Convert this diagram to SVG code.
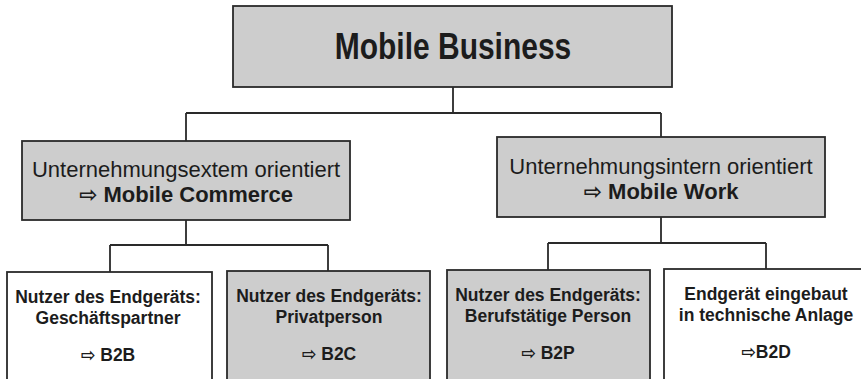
<svg xmlns="http://www.w3.org/2000/svg" width="861" height="379" viewBox="0 0 861 379">
<style>
.bg{fill:#ffffff}
.box{stroke:#2a2a2a;stroke-width:1.8}
.gray{fill:#cdcdcd}
.white{fill:#ffffff}
.conn{fill:none;stroke:#2a2a2a;stroke-width:1.8}
text{font-family:"Liberation Sans",Arial,"DejaVu Sans",sans-serif;fill:#1c1c1c;text-anchor:middle}
.title{font-size:30px;font-weight:bold}
.mid{font-size:22px}
.midb{font-size:22px;font-weight:bold}
.low{font-size:17.5px;font-weight:bold}
</style>
<rect class="bg" x="0" y="0" width="861" height="379"/>
<g id="connectors">
<path class="conn" d="M453 87 V113 M186 113 H661 M186 113 V141 M661 113 V137"/>
<path class="conn" d="M186 220 V245 M110 245 H328 M110 245 V272 M328 245 V271"/>
<path class="conn" d="M661 217 V243 M548 243 H766 M548 243 V270 M766 243 V269"/>
</g>
<g id="mobile-business">
<rect class="box gray" x="233" y="6" width="439" height="81"/>
<text class="title" transform="translate(453,59) scale(1,1.25)" x="0" y="0">Mobile Business</text>
</g>
<g id="mobile-commerce">
<rect class="box gray" x="22" y="141" width="328" height="79"/>
<text class="mid" x="186" y="177">Unternehmungsextem orientiert</text>
<text class="midb" x="186" y="202">⇨ Mobile Commerce</text>
</g>
<g id="mobile-work">
<rect class="box gray" x="497" y="137" width="328" height="80"/>
<text class="mid" x="661" y="174">Unternehmungsintern orientiert</text>
<text class="midb" x="661" y="199">⇨ Mobile Work</text>
</g>
<g id="b2b">
<rect class="box white" x="7" y="272" width="205" height="108"/>
<text class="low" x="108" y="303">Nutzer des Endgeräts:</text>
<text class="low" x="108" y="324">Geschäftspartner</text>
<text class="low" x="108" y="361">⇨ B2B</text>
</g>
<g id="b2c">
<rect class="box gray" x="227" y="271" width="203" height="109"/>
<text class="low" x="329" y="302">Nutzer des Endgeräts:</text>
<text class="low" x="329" y="323">Privatperson</text>
<text class="low" x="329" y="360">⇨ B2C</text>
</g>
<g id="b2p">
<rect class="box gray" x="447" y="270" width="203" height="110"/>
<text class="low" x="548" y="301">Nutzer des Endgeräts:</text>
<text class="low" x="548" y="322">Berufstätige Person</text>
<text class="low" x="548" y="359">⇨ B2P</text>
</g>
<g id="b2d">
<rect class="box white" x="664" y="269" width="205" height="111"/>
<text class="low" x="766" y="300">Endgerät eingebaut</text>
<text class="low" x="766" y="321">in technische Anlage</text>
<text class="low" x="766" y="358">⇨B2D</text>
</g>
</svg>
